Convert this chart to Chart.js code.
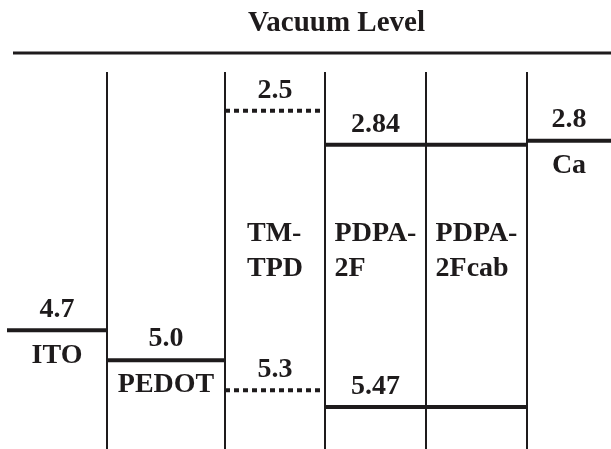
<!DOCTYPE html>
<html>
<head>
<meta charset="utf-8">
<script src="https://cdn.jsdelivr.net/npm/chart.js@4.4.1/dist/chart.umd.min.js"></script>
<style>
  html, body { margin: 0; padding: 0; background: #fff; }
  #wrap { width: 611px; height: 449px; }
</style>
</head>
<body>
<div id="wrap"><canvas id="levels"></canvas></div>
<script>
// energy levels (eV below vacuum)
var layers = ['ITO', 'PEDOT', 'TM-TPD', 'PDPA-2F', 'PDPA-2Fcab', 'Ca'];
var nameLines = [['ITO'], ['PEDOT'], ['TM-', 'TPD'], ['PDPA-', '2F'], ['PDPA-', '2Fcab'], ['Ca']];
var workFunction = [4.7, 5.0, null, null, null, 2.8];
var lumo = [null, null, 2.5, 2.84, 2.84, null];
var homo = [null, null, 5.3, 5.47, 5.47, null];
// layer boundaries along x (arbitrary units)
var layerEdges = [0.07, 1.07, 2.25, 3.25, 4.26, 5.27, 6.11];

var ink = '#1e1b1c';
var serif = '"Liberation Serif", "Times New Roman", serif';

function fmt(v) {
  return v % 1 === 0 ? v.toFixed(1) : String(v);
}

function segment(i, v, dashed) {
  return {
    data: [{x: layerEdges[i], y: v}, {x: layerEdges[i + 1], y: v}],
    borderColor: ink,
    borderWidth: 4,
    borderDash: dashed ? [5, 4] : [],
    borderCapStyle: 'butt',
    pointRadius: 0
  };
}

function buildDatasets() {
  var sets = [];
  // layer separators
  for (var k = 1; k < layerEdges.length - 1; k++) {
    sets.push({
      data: [{x: layerEdges[k], y: 2.11}, {x: layerEdges[k], y: 5.9}],
      borderColor: ink,
      borderWidth: 2,
      pointRadius: 0
    });
  }
  layers.forEach(function (name, i) {
    var dashed = name === 'TM-TPD';
    if (workFunction[i] !== null) sets.push(segment(i, workFunction[i], false));
    if (lumo[i] !== null) sets.push(segment(i, lumo[i], dashed));
    if (homo[i] !== null) sets.push(segment(i, homo[i], dashed));
  });
  return sets;
}

var textPlugin = {
  id: 'levelText',
  afterDatasetsDraw: function (chart) {
    var ctx = chart.ctx;
    var xs = chart.scales.x, ys = chart.scales.y, area = chart.chartArea;
    ctx.save();
    ctx.fillStyle = ink;
    ctx.strokeStyle = ink;

    // vacuum level
    ctx.lineWidth = 3;
    ctx.beginPath();
    ctx.moveTo(area.left + 13, area.top);
    ctx.lineTo(area.right, area.top);
    ctx.stroke();
    ctx.font = 'bold 29px ' + serif;
    ctx.textAlign = 'center';
    ctx.textBaseline = 'middle';
    ctx.fillText('Vacuum Level', (area.left + area.right) / 2 + 31, area.top - 29);

    layers.forEach(function (name, i) {
      var cx = xs.getPixelForValue((layerEdges[i] + layerEdges[i + 1]) / 2);
      ctx.textAlign = 'center';
      ctx.font = 'bold 28px ' + serif;
      if (workFunction[i] !== null) {
        var py = ys.getPixelForValue(workFunction[i]);
        ctx.fillText(fmt(workFunction[i]), cx, py - 21);
        ctx.fillText(nameLines[i][0], cx, py + 25);
        return;
      }
      [lumo[i], homo[i]].forEach(function (v, j) {
        var prev = j === 0 ? lumo[i - 1] : homo[i - 1];
        if (v === null || v === prev) return;
        ctx.fillText(fmt(v), cx, ys.getPixelForValue(v) - 20);
      });
      var w = Math.max.apply(null, nameLines[i].map(function (s) { return ctx.measureText(s).width; }));
      ctx.textAlign = 'left';
      var midY = (area.top + area.bottom) / 2;
      nameLines[i].forEach(function (s, n) {
        ctx.fillText(s, cx - w / 2, midY - 17 + n * 35);
      });
    });
    ctx.restore();
  }
};

function init() {
  var ctx = document.getElementById('levels');
  new Chart(ctx, {
    type: 'line',
    data: { datasets: buildDatasets() },
    options: {
      responsive: true,
      maintainAspectRatio: false,
      animation: false,
      layout: { padding: { top: 53, left: 0, right: 0, bottom: 0 } },
      plugins: { legend: { display: false }, tooltip: { enabled: false } },
      scales: {
        x: { type: 'linear', min: 0, max: 6.11, display: false },
        y: { type: 'linear', min: 1.92, max: 5.89, reverse: true, display: false }
      }
    },
    plugins: [textPlugin]
  });
}

init();
</script>
</body>
</html>
